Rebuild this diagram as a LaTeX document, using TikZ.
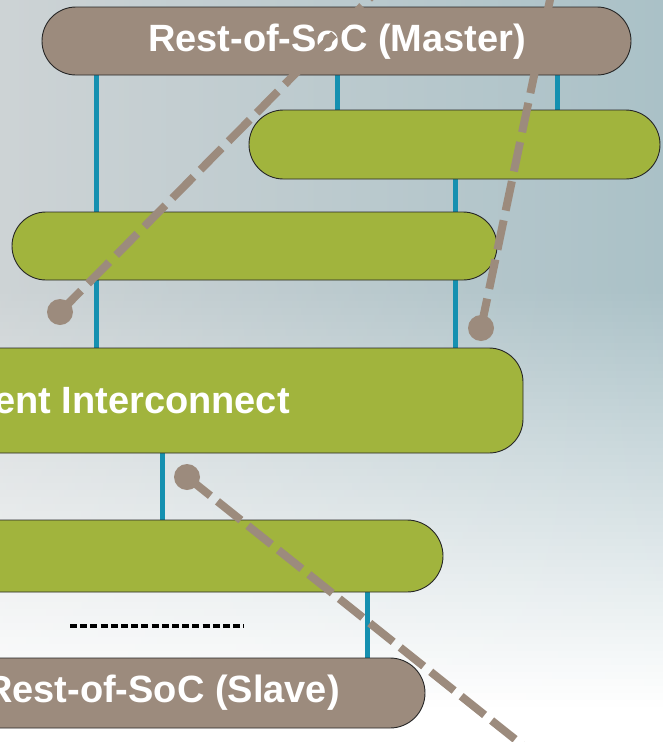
\documentclass[tikz,border=0pt]{standalone}
\usepackage{fontspec}
\setmainfont{Liberation Sans}

\definecolor{taupe}{HTML}{9C8B7D}
\definecolor{olive}{HTML}{A1B43D}
\definecolor{busblue}{HTML}{1590B0}
\definecolor{bgleft}{HTML}{CDD3D5}
\definecolor{bgright}{HTML}{AAC1C7}

\pgfdeclarelayer{back}
\pgfsetlayers{back,main}

\begin{document}
\begin{tikzpicture}[x=1pt, y=-1pt,
  bar/.style={draw=black!85, line width=0.9pt, inner sep=0pt},
  socbar/.style={bar, fill=taupe},
  ipbar/.style={bar, fill=olive},
  bartext/.style={text=white, font=\bfseries\fontsize{38}{40}\selectfont, inner sep=0pt},
  link/.style={draw=busblue, line width=5pt},
  probe/.style={draw=taupe, line width=8pt, dash pattern=on 30pt off 10pt},
  tip/.style={circle, fill=taupe, minimum size=26pt, inner sep=0pt}]

\useasboundingbox (0,0) rectangle (663,742);
\clip (0,0) rectangle (663,742);

% blocks
\node[socbar, minimum width=589pt, minimum height=68pt, rounded corners=34pt] (master) at (336.5,41) {};
\node[ipbar, minimum width=411pt, minimum height=69pt, rounded corners=34.5pt] (ipa) at (454.5,144.5) {};
\node[ipbar, minimum width=485pt, minimum height=68pt, rounded corners=34pt] (ipb) at (254.5,246) {};
\node[ipbar, minimum width=823pt, minimum height=105pt, rounded corners=34pt] (ic) at (111.5,400.5) {};
\node[ipbar, minimum width=743pt, minimum height=72pt, rounded corners=36pt] (ipc) at (71.5,556) {};
\node[socbar, minimum width=725pt, minimum height=70pt, rounded corners=35pt] (slave) at (62.5,693) {};

% labels
\node[bartext] (mastertxt) at (337,42) {Rest-of-SoC (Master)};
\node[bartext, anchor=east] (ictxt) at (290,401) {ent Interconnect};
\node[bartext, anchor=east] (slavetxt) at (340,693) {Rest-of-SoC (Slave)};

% dotted continuation mark
\coordinate (moreL) at (70,626);
\coordinate (moreR) at (244,626);
\draw[line width=3.6pt, dash pattern=on 7pt off 3.2pt] (moreL) -- (moreR);

% background and bus links
\begin{pgfonlayer}{back}
  \clip (0,0) rectangle (663,742);
  % bands: horizontal grey-blue gradient, fading to white downwards
  \foreach \k in {0,...,105} {
    \pgfmathsetmacro\ya{\k*7}
    \pgfmathsetmacro\yb{\k*7+7.6}
    \pgfmathsetmacro\pct{100-max(0,min(100,(\k*7+3.5-290)/4.2))}
    \shade[left color=bgleft!\pct!white, right color=bgright!\pct!white]
      (0,\ya) rectangle (663,\yb);
  }

  \coordinate (xa) at (96,0);
  \coordinate (xb) at (337,0);
  \coordinate (xc) at (557,0);
  \coordinate (xd) at (455,0);
  \coordinate (xe) at (162,0);
  \coordinate (xf) at (367,0);
  \draw[link] (master.south -| xa) -- (ic.north -| xa);
  \draw[link] (master.south -| xb) -- (ipa.north -| xb);
  \draw[link] (master.south -| xc) -- (ipa.north -| xc);
  \draw[link] (ipa.south -| xd) -- (ipb.north -| xd);
  \draw[link] (ipb.south -| xd) -- (ic.north -| xd);
  \draw[link] (ic.south -| xe) -- (ipc.north -| xe);
  \draw[link] (ipc.south -| xf) -- (slave.north -| xf);
\end{pgfonlayer}

% probe lines
\node[tip] (pa) at (60,312) {};
\node[tip] (pb) at (481,328) {};
\node[tip] (pc) at (187,477) {};
\coordinate (pafar) at (373,-5);
\coordinate (pbfar) at (551,-5);
\coordinate (pcfar) at (541,760);
\draw[probe] (pa.center) -- (pafar);
\draw[probe] (pb.center) -- (pbfar);
\draw[probe, dash pattern=on 30pt off 9pt] (pc.center) -- (pcfar);
\end{tikzpicture}
\end{document}
